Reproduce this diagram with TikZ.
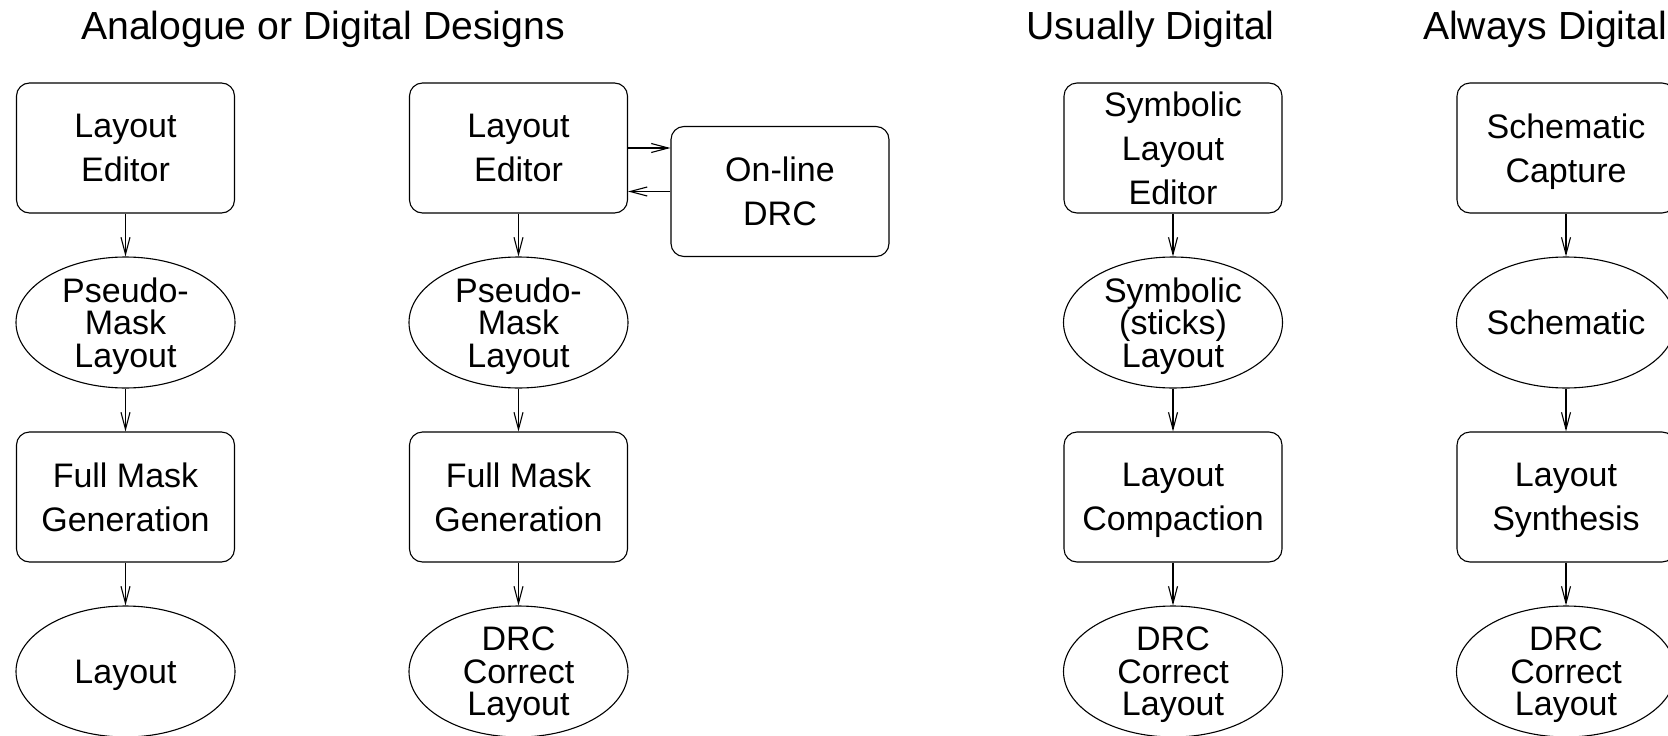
\documentclass[tikz,border=0pt]{standalone}
\usepackage{fontspec}
\setmainfont{Liberation Sans}
\usetikzlibrary{shapes.geometric,arrows.meta}
\newcommand{\nodepth}[1]{\raisebox{0pt}[\height][0pt]{#1}}
\tikzset{
  boxnode/.style={draw, line width=1.1pt, rounded corners=13pt, minimum width=218pt, minimum height=130pt,
    inner sep=0pt, align=center, font=\fontsize{34}{44}\selectfont},
  ellnode/.style={draw, line width=1.1pt, ellipse, minimum width=219pt, minimum height=131pt,
    inner sep=-12pt, align=center, font=\fontsize{34}{32.5}\selectfont},
  titlenode/.style={anchor=base, inner sep=0pt, font=\fontsize{39.2}{44}\selectfont},
  arr/.style={line width=1.1pt, -{Straight Barb[length=17pt,width=9pt,line width=1.1pt]}}
}
\begin{document}
\begin{tikzpicture}[x=1pt,y=-1pt]
\useasboundingbox (0,0) rectangle (1668,736);
\clip (0,0) rectangle (1668,736);
\fill[white] (0,0) rectangle (1668,736);
% titles
\node[titlenode] (t1) at (323,39) {Analogue or Digital Designs};
\node[titlenode] (t2) at (1150.5,39) {Usually Digital};
\node[titlenode] (t3) at (1545,39) {Always Digital};
% column 1
\node[boxnode] (a1) at (125.5,148) {Layout\\Editor};
\node[ellnode] (a2) at (125.5,322.5) {Pseudo-\\Mask\\\nodepth{Layout}};
\node[boxnode] (a3) at (125.5,497) {Full Mask\\Generation};
\node[ellnode] (a4) at (125.5,671.5) {\nodepth{Layout}};
% column 2
\node[boxnode] (b1) at (518.5,148) {Layout\\Editor};
\node[boxnode] (drc) at (780,191.5) {On-line\\DRC};
\node[ellnode] (b2) at (518.5,322.5) {Pseudo-\\Mask\\\nodepth{Layout}};
\node[boxnode] (b3) at (518.5,497) {Full Mask\\Generation};
\node[ellnode] (b4) at (518.5,671.5) {DRC\\Correct\\\nodepth{Layout}};
% column 3
\node[boxnode] (c1) at (1173,148) {Symbolic\\Layout\\Editor};
\node[ellnode] (c2) at (1173,322.5) {Symbolic\\(sticks)\\\nodepth{Layout}};
\node[boxnode] (c3) at (1173,497) {Layout\\\nodepth{Compaction}};
\node[ellnode] (c4) at (1173,671.5) {DRC\\Correct\\\nodepth{Layout}};
% column 4
\node[boxnode] (d1) at (1566,148) {Schematic\\\nodepth{Capture}};
\node[ellnode] (d2) at (1566,322.5) {Schematic};
\node[boxnode] (d3) at (1566,497) {Layout\\\nodepth{Synthesis}};
\node[ellnode] (d4) at (1566,671.5) {DRC\\Correct\\\nodepth{Layout}};
% connectors
\foreach \c in {a,b,c,d}{
  \draw[arr] (\c1.south) -- (\c2.north);
  \draw[arr] (\c2.south) -- (\c3.north);
  \draw[arr] (\c3.south) -- (\c4.north);
}
\draw[arr] (b1.east) -- (b1.east -| drc.west);
\draw[arr] (drc.west) -- (drc.west -| b1.east);
\end{tikzpicture}
\end{document}
